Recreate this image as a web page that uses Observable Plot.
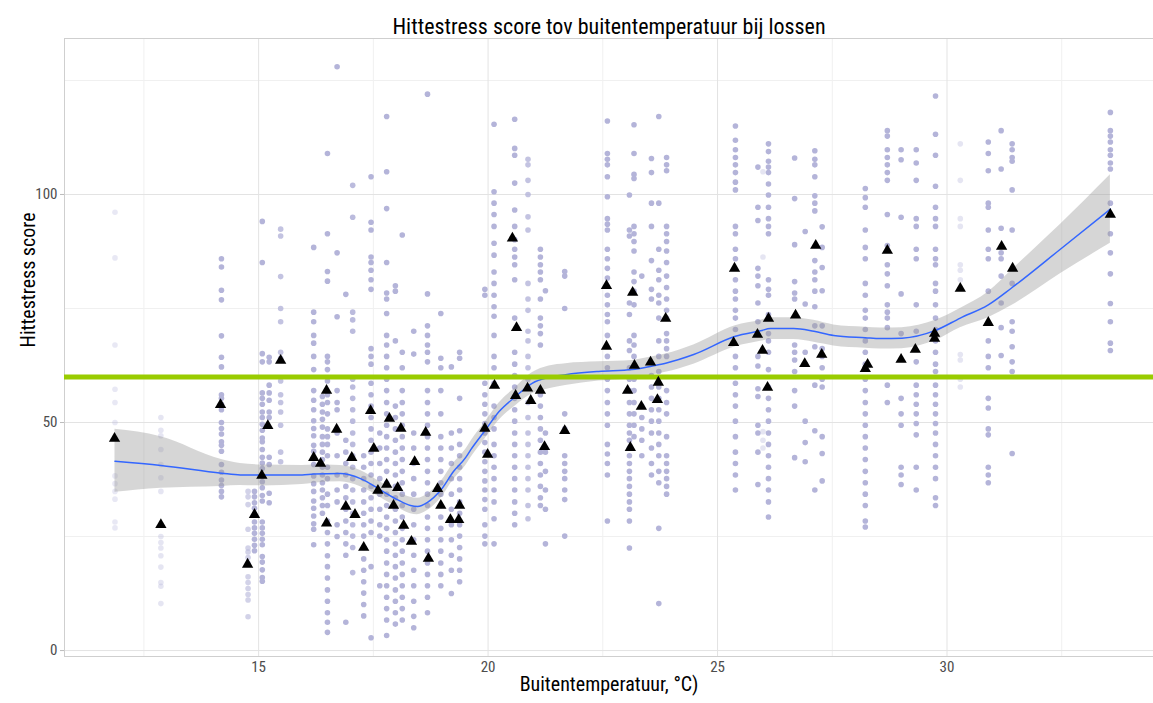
<!DOCTYPE html>
<html>
<head>
<meta charset="utf-8">
<script src="https://cdn.jsdelivr.net/npm/d3@7"></script>
<script src="https://cdn.jsdelivr.net/npm/@observablehq/plot@0.6"></script>
<style>
  html, body { margin: 0; padding: 0; background: #fff; }
  #chart svg { display: block; }
</style>
</head>
<body>
<div id="chart"></div>
<script>
// ---- data ----
const chartTitle = "Hittestress score tov buitentemperatuur bij lossen";
const xLabel = "Buitentemperatuur, °C)";
const yLabel = "Hittestress score";
const xTicks = [15, 20, 25, 30];
const xMinor = [12.5, 17.5, 22.5, 27.5, 32.5];
const yTicks = [0, 50, 100];
const yMinor = [25, 75, 125];
const threshold = [60];

// temperature of each day-column of individual scores
const dayTemp = [11.87, 12.87, 14.19, 14.77, 14.91, 15.08, 15.23, 15.48, 16.2, 16.39,
  16.5, 16.71, 16.9, 17.05, 17.29, 17.45, 17.64, 17.79, 17.98, 18.13,
  18.38, 18.68, 18.97, 19.2, 19.38, 19.93, 20.13, 20.58, 20.87, 21.14,
  21.25, 21.67, 22.6, 23.08, 23.18, 23.35, 23.56, 23.72, 23.89, 25.39,
  25.88, 25.99, 26.11, 26.68, 26.91, 27.12, 27.28, 28.22, 28.7, 29.0,
  29.33, 29.75, 30.29, 30.9, 31.18, 31.42, 33.56];
// visibility (alpha) of each column
const dayAlpha = [0.3, 0.35, 1, 0.6, 1, 1, 1, 0.8, 1, 1,
  1, 1, 1, 0.9, 1, 1, 1, 1, 1, 1,
  1, 1, 1, 1, 1, 1, 1, 1, 0.8, 1,
  1, 1, 1, 1, 1, 1, 1, 1, 1, 1,
  1, 0.35, 1, 1, 1, 1, 1, 1, 1, 1,
  1, 1, 0.35, 1, 1, 1, 1];
// individual hittestress scores per column
const dayScores = [
  [96.1, 86.1, 67.0, 57.3, 54.4, 50, 38.3, 36.6, 34.9, 33.2, 28.2, 26.9],
  [51.1, 48.3, 47.1, 44.1, 40.8, 37.9, 34.9, 25, 23.7, 22.5, 20.8, 18.3, 14.9, 14.1, 10.3],
  [85.9, 84.1, 79.0, 76.9, 69.0, 64.3, 62.2, 56.1, 55.3, 54.0, 52.8, 50, 48.7, 47.5, 45.8, 45.0, 43.7, 40.8, 39.1, 37.4, 36.2, 34.9, 33.7],
  [34.9, 33.7, 32.0, 26.6, 22.5, 21.6, 20.4, 19.1, 16.2, 14.9, 13.6, 12.3, 11.1, 7.4],
  [34.9, 33.7, 32.4, 31.2, 29.9, 28.2, 26.9, 25.7, 24.4, 23.1, 21.9],
  [94.1, 85.1, 65.1, 63.3, 56.5, 55.3, 54.0, 52.3, 51.1, 49.6, 48.3, 46.6, 45.8, 44.1, 42.4, 41.1, 39.9, 38.2, 37.0, 35.7, 34.0, 32.8, 28.2, 26.9, 25.7, 24.4, 23.2, 20.6, 19.4, 17.7, 16.0, 15.2],
  [64.3, 63.3, 58.2, 56.5, 54.9, 52.3, 51.1, 42.4, 40.8, 34.5, 32.4],
  [92.4, 90.9, 82.0, 75.0, 72.1, 65.4, 64.1, 59.1, 56.1, 54.4, 52.3, 49.4, 43.5, 41.4],
  [88.4, 74.2, 72.1, 69.1, 67.4, 64.5, 61.6, 57.0, 54.9, 52.8, 50.4, 48.7, 47.1, 45.0, 43.7, 42.1, 40.8, 38.3, 36.6, 34.9, 32.8, 31.2, 29.5, 27.8, 26.6, 23.2],
  [55.7, 54.0, 52.3, 50.7, 49.0, 46.9, 45.2, 43.5, 41.9, 40.2, 38.5, 36.8, 35.2, 33.5, 31.8, 30.1],
  [109.0, 91.4, 83.1, 81.0, 64.5, 63.3, 61.6, 59.1, 56.1, 54.4, 51.9, 48.6, 46.9, 45.2, 42.7, 40.2, 37.7, 34.3, 31.8, 28.4, 25.9, 23.4, 20.8, 18.4, 15.9, 13.3, 10.8, 8.3, 6.2, 4.0],
  [128.0, 87.2, 73.2, 57.0, 54.4, 52.8, 47.7, 42.7, 38.5, 35.2, 32.6, 27.6, 25.0],
  [78.1, 46.1, 43.5, 41.0, 38.5, 36.0, 33.5, 31.0, 28.4, 25.9, 23.4, 20.9, 6.2],
  [102.0, 95.0, 74.2, 72.5, 70.0, 59.5, 57.8, 55.3, 52.8, 50.3, 47.7, 45.2, 42.7, 40.2, 37.7, 35.2, 32.6, 30.1, 27.6, 25.1, 22.6, 17.1],
  [42.7, 40.2, 37.7, 35.2, 32.6, 30.1, 27.6, 25.1, 22.6, 20.1, 17.6, 15.1, 12.6, 10.1, 7.6],
  [103.9, 93.9, 92.2, 86.3, 85.1, 83.4, 81.3, 79.2, 66.2, 64.5, 62.8, 58.6, 56.1, 53.6, 51.1, 48.6, 46.1, 43.5, 41.0, 38.5, 36.0, 33.5, 31.0, 28.4, 25.9, 18.4, 2.8],
  [47.7, 44.4, 41.0, 37.7, 34.3, 31.0, 27.6, 25.1, 14.2],
  [117.1, 105.0, 96.9, 85.1, 78.4, 77.1, 73.9, 69.1, 67.0, 64.5, 62.0, 59.5, 57.0, 54.4, 51.9, 49.4, 46.9, 44.4, 41.9, 39.3, 36.8, 34.3, 31.8, 29.3, 26.8, 24.3, 21.8, 19.2, 16.7, 14.2, 11.7, 9.2, 6.7, 3.3],
  [80.0, 78.8, 67.9, 53.6, 51.1, 48.6, 46.1, 43.5, 41.0, 38.5, 36.0, 33.5, 31.0, 28.4, 25.9, 23.4, 20.9, 18.4, 15.9, 13.3, 10.8, 8.3, 5.8],
  [91.1, 65.4, 62.0, 57.0, 54.4, 51.9, 49.4, 46.9, 44.4, 41.9, 39.3, 36.8, 34.3, 31.8, 29.3, 26.8, 24.3, 21.8, 19.2, 16.7, 14.2, 11.7, 9.2, 6.7],
  [70.0, 65.0, 47.7, 44.4, 41.0, 37.7, 34.3, 31.0, 27.6, 24.3, 20.9, 17.6, 14.2, 10.8, 7.5, 5.0],
  [122.0, 78.2, 71.2, 69.1, 67.0, 65.4, 63.3, 57.0, 54.4, 51.9, 49.4, 46.9, 44.4, 41.9, 39.3, 36.8, 34.3, 31.8, 29.3, 26.8, 24.3, 21.8, 19.2, 16.7, 14.2, 11.7, 8.3],
  [73.9, 64.1, 62.0, 57.0, 51.9, 46.9, 44.4, 41.9, 39.3, 36.8, 34.3, 31.8, 29.3, 26.8, 24.3, 21.8, 19.2, 16.7, 14.2],
  [62.2, 47.7, 44.4, 41.0, 37.7, 34.3, 31.0, 27.6, 24.3, 20.9, 17.6, 12.5],
  [65.4, 64.1, 55.3, 48.2, 45.2, 42.7, 40.2, 37.7, 35.2, 32.6, 30.1, 27.6, 25.1, 22.6, 20.1, 17.6, 15.1],
  [79.2, 77.9, 58.6, 56.1, 54.0, 51.9, 49.8, 47.7, 45.6, 43.5, 41.4, 39.3, 37.2, 35.2, 33.1, 31.0, 27.6, 25.1, 23.4],
  [115.4, 100.6, 98.1, 95.6, 93.0, 89.3, 86.7, 83.0, 80.5, 77.9, 75.4, 73.3, 69.1, 64.5, 62.0, 58.6, 53.6, 51.1, 48.6, 45.2, 42.7, 40.2, 37.7, 35.2, 32.6, 28.9, 23.4],
  [116.5, 110.1, 108.6, 102.5, 96.6, 93.0, 90.1, 88.0, 86.3, 84.6, 81.3, 72.9, 65.4, 62.8, 60.3, 57.8, 55.3, 52.8, 50.3, 47.7, 45.2, 42.7, 40.2, 37.7, 35.2, 32.6, 30.1, 27.6],
  [107.7, 106.5, 103.1, 100.0, 95.1, 92.2, 80.5, 77.1, 74.6, 70.0, 67.9, 64.5, 62.0, 59.5, 54.4, 51.1, 47.7, 45.2, 42.7, 40.2, 37.7, 35.2, 31.8, 28.9],
  [88.0, 86.3, 84.6, 83.0, 81.3, 77.1, 72.9, 71.2, 69.5, 67.0, 56.1, 53.6, 51.1, 48.6, 46.1, 43.5, 41.0, 38.5, 36.0, 33.5, 31.8],
  [78.9, 47.7, 43.5, 39.3, 35.2, 31.0, 23.4],
  [83.1, 82.1, 75.0, 51.9, 48.6, 42.7, 41.0, 39.3, 37.7, 35.2, 33.1, 25.1],
  [116.1, 109.0, 107.7, 106.5, 103.9, 99.5, 94.7, 93.5, 92.2, 88.0, 85.9, 83.8, 81.7, 77.9, 75.8, 73.7, 72.1, 69.1, 64.5, 62.0, 59.5, 57.0, 54.4, 51.9, 49.4, 45.2, 43.1, 41.0, 38.5, 28.4],
  [99.9, 92.2, 90.9, 76.2, 73.7, 67.9, 65.8, 62.0, 59.5, 57.0, 54.4, 51.9, 49.4, 47.7, 46.1, 44.4, 42.7, 41.0, 39.3, 37.7, 36.0, 34.3, 32.6, 31.0, 28.4, 22.5],
  [115.3, 109.0, 104.4, 103.5, 93.0, 91.4, 89.7, 87.6, 83.0, 80.9, 78.8, 75.8, 69.1, 67.0, 64.5, 59.5, 57.0, 54.4, 51.9, 49.4, 46.9],
  [82.1, 53.6, 51.1, 48.6, 46.1, 42.7],
  [107.9, 104.8, 98.1, 93.0, 85.5, 79.2, 77.1, 60.3, 57.8, 55.3, 52.8, 50.3, 47.7, 44.4, 41.0, 38.5],
  [117.1, 98.1, 88.0, 83.4, 81.3, 77.9, 76.2, 72.9, 67.9, 64.5, 61.2, 57.8, 55.3, 52.8, 50.3, 47.7, 45.2, 42.7, 39.3, 36.8, 26.8, 10.3],
  [108.1, 106.5, 105.2, 93.0, 91.4, 89.7, 87.6, 85.1, 82.1, 79.6, 77.1, 74.6, 72.9, 69.5, 67.9, 66.2, 64.5, 57.0, 54.4, 51.9, 46.9, 42.7, 41.0, 39.3, 37.7, 36.0, 34.3],
  [115.0, 111.9, 109.8, 108.1, 106.5, 104.8, 102.7, 101.0, 93.0, 91.4, 88.0, 85.9, 81.3, 78.8, 77.1, 74.6, 72.9, 70.4, 64.5, 62.0, 58.6, 56.1, 53.6, 50.3, 46.9, 43.5, 41.0, 38.5, 35.2],
  [106.0, 97.2, 94.3, 83.8, 82.1, 80.0, 76.2, 72.1, 64.5, 62.4, 57.4, 55.7, 49.4, 47.7, 43.5, 36.4],
  [105.0, 86.3, 48.0, 46.1, 44.4],
  [111.1, 109.4, 107.3, 106.0, 104.8, 102.3, 99.9, 97.2, 94.7, 93.0, 91.4, 81.3, 79.2, 77.9, 73.7, 69.5, 67.9, 65.4, 61.6, 57.8, 55.3, 52.8, 50.3, 47.7, 45.2, 42.7, 40.2, 37.7, 35.2, 32.6, 29.3],
  [108.0, 99.1, 89.0, 80.9, 78.4, 77.1, 67.0, 65.4, 63.7, 61.2, 57.0, 53.6, 42.3],
  [91.9, 76.0, 65.4, 62.8, 50.3, 45.6, 41.4],
  [109.6, 107.7, 106.5, 103.9, 99.7, 98.1, 96.4, 85.5, 83.0, 81.3, 78.8, 75.4, 71.2, 66.6, 58.2, 48.2, 35.2],
  [92.9, 88.4, 84.0, 78.9, 71.2, 66.2, 64.5, 62.0, 59.5, 57.8, 46.9, 43.2, 37.2],
  [101.3, 99.3, 97.2, 92.2, 88.4, 85.9, 80.5, 77.9, 74.6, 72.9, 70.4, 67.9, 65.4, 62.8, 59.5, 57.0, 54.4, 51.9, 49.4, 46.9, 44.4, 41.9, 39.3, 36.8, 34.3, 31.8, 28.4, 27.1],
  [114.0, 112.8, 109.8, 108.1, 106.5, 104.8, 103.1, 95.6, 88.8, 84.6, 82.6, 80.0, 75.8, 74.2, 72.9, 70.8, 58.2, 54.4],
  [109.8, 107.6, 95.0, 78.2, 69.5, 55.3, 51.9, 49.4, 40.2, 38.5, 36.4],
  [109.8, 106.9, 103.1, 94.7, 93.0, 88.0, 85.9, 75.8, 70.0, 63.3, 58.2, 56.1, 54.0, 51.9, 49.8, 47.3, 40.2, 35.2],
  [121.6, 113.2, 108.6, 101.8, 97.2, 94.7, 93.0, 88.0, 85.9, 84.6, 80.5, 78.8, 75.8, 72.9, 70.4, 67.9, 65.4, 62.8, 61.2, 58.2, 56.1, 54.0, 51.9, 49.8, 47.7, 45.2, 42.7, 40.2, 37.7, 33.5, 31.8],
  [111.1, 103.1, 94.7, 93.0, 84.6, 83.4, 81.3, 64.9, 63.7, 59.5, 57.8],
  [111.5, 109.0, 105.2, 98.1, 97.2, 92.2, 88.0, 85.9, 78.8, 67.9, 64.5, 62.0, 55.3, 53.2, 48.6, 47.3, 40.2, 38.5, 36.8],
  [114.0, 105.6, 92.6, 87.2, 85.9, 82.1, 76.2, 70.8, 64.7],
  [111.1, 109.8, 108.1, 107.3, 101.0, 92.2, 80.5, 72.1, 70.0, 66.6, 63.3, 61.2, 43.2],
  [118.0, 114.0, 112.8, 111.5, 109.8, 108.6, 106.9, 105.6, 98.1, 91.4, 87.2, 82.6, 76.1, 72.1, 67.4, 65.8]
];

// mean score per day (black triangles)
const meanTemp = [11.86, 12.87, 14.17, 14.76, 14.91, 15.07, 15.2, 15.48, 16.2, 16.35,
  16.48, 16.48, 16.7, 16.9, 17.03, 17.1, 17.29, 17.44, 17.51, 17.6,
  17.79, 17.85, 17.94, 18.03, 18.1, 18.16, 18.33, 18.4, 18.64, 18.7,
  18.9, 18.97, 19.18, 19.36, 19.38, 19.93, 19.99, 20.14, 20.53, 20.62,
  20.6, 20.86, 20.93, 21.14, 21.23, 21.67, 22.58, 22.58, 23.04, 23.1,
  23.15, 23.19, 23.34, 23.54, 23.71, 23.69, 23.87, 25.37, 25.35, 25.87,
  25.98, 26.11, 26.09, 26.7, 26.9, 27.14, 27.27, 28.22, 28.27, 28.7,
  29.0, 29.31, 29.73, 29.73, 30.29, 30.9, 31.19, 31.43, 33.56];
const meanScore = [46.5, 27.6, 53.9, 18.9, 29.8, 38.4, 49.3, 63.6, 42.3, 41,
  57, 27.9, 48.5, 31.6, 42.3, 29.8, 22.6, 52.6, 44.3, 35.1,
  36.4, 50.9, 31.8, 35.7, 48.7, 27.4, 23.9, 41.4, 47.8, 20.2,
  35.5, 31.8, 28.7, 28.7, 31.8, 48.7, 43, 58.1, 90.4, 70.8,
  55.9, 57.5, 54.8, 57, 44.7, 48.2, 80, 66.7, 57, 44.5,
  78.5, 62.5, 53.5, 63.2, 58.8, 55, 72.8, 83.8, 67.5, 69.3,
  65.8, 72.8, 57.7, 73.5, 62.9, 88.8, 64.9, 61.8, 62.7, 87.7,
  63.8, 66, 68.4, 69.5, 79.4, 71.9, 88.6, 83.8, 95.6];

// loess smooth with confidence band
const fitTemp = [11.87, 12.87, 14.19, 14.6, 15.08, 15.95, 16.2, 16.78, 17.22, 17.66,
  18.02, 18.31, 18.46, 18.68, 18.97, 19.25, 19.51, 19.62, 19.93, 20.24,
  20.6, 20.96, 21.33, 21.69, 22.41, 23.14, 23.58, 23.87, 24.48, 25.39,
  25.94, 26.15, 26.66, 27.1, 27.53, 28.22, 28.55, 29.02, 29.75, 30.29,
  30.9, 31.42, 32.47, 33.56];
const fitScore = [41.5, 40.6, 38.9, 38.5, 38.5, 38.5, 38.7, 38.8, 37.7, 35.2,
  33.1, 31.8, 31.6, 32.5, 35.2, 39.3, 42.3, 44.0, 48.2, 52.4,
  55.7, 58.6, 59.9, 60.5, 61.2, 61.6, 62.4, 63.0, 64.9, 68.9,
  70.1, 70.6, 70.6, 70.0, 69.1, 68.6, 68.4, 68.5, 70.2, 72.9,
  75.8, 79.6, 88.0, 96.8];
const fitLow = [34.7, 35.6, 36.0, 36.2, 36.1, 36.4, 36.7, 37.0, 35.9, 33.5,
  31.4, 30.0, 29.8, 30.7, 33.4, 37.5, 40.5, 42.2, 46.4, 50.5,
  53.7, 56.3, 57.4, 58.1, 59.1, 59.6, 60.4, 61.0, 62.8, 66.6,
  67.8, 68.2, 68.2, 67.6, 66.8, 66.3, 66.1, 66.2, 68.0, 70.8,
  73.0, 75.7, 82.6, 89.3];
const fitHigh = [48.5, 46.9, 41.9, 41.0, 40.7, 40.6, 40.7, 40.6, 39.5, 36.9,
  34.8, 33.6, 33.4, 34.3, 37.0, 41.1, 44.1, 45.8, 50.0, 54.3,
  57.7, 60.9, 62.4, 62.9, 63.3, 63.6, 64.4, 65.0, 67.0, 71.2,
  72.4, 73.0, 73.0, 72.4, 71.4, 70.9, 70.7, 70.8, 72.4, 75.0,
  78.6, 83.5, 93.4, 104.3];

// ---- build tables ----
const scorePoints = dayTemp.flatMap((t, i) =>
  dayScores[i].map(s => ({temp: t, score: s, alpha: dayAlpha[i]})));
const means = meanTemp.map((t, i) => ({temp: t, score: meanScore[i]}));
const fit = fitTemp.map((t, i) => ({temp: t, score: fitScore[i], lo: fitLow[i], hi: fitHigh[i]}));

const narrow = "'Liberation Sans Narrow', 'Arial Narrow', 'Roboto Condensed', sans-serif";

const chart = Plot.plot({
  width: 1153,
  height: 703,
  marginTop: 38,
  marginBottom: 47,
  marginLeft: 64,
  marginRight: 0,
  style: {fontFamily: narrow, background: "#fff", overflow: "visible"},
  x: {domain: [10.77, 34.5]},
  y: {domain: [-1.3, 134.2]},
  marks: [
    Plot.ruleY(yMinor, {stroke: "#f0f0f0", strokeWidth: 1}),
    Plot.ruleX(xMinor, {stroke: "#f0f0f0", strokeWidth: 1}),
    Plot.ruleY(yTicks, {stroke: "#e3e3e3", strokeWidth: 1}),
    Plot.ruleX(xTicks, {stroke: "#e3e3e3", strokeWidth: 1}),
    Plot.frame({stroke: "#cfcfcf", strokeWidth: 1}),
    Plot.axisY(yTicks, {tickSize: 4, tickPadding: 3, fontSize: 15, color: "#4d4d4d", stroke: "#bbbbbb", label: null}),
    Plot.axisX(xTicks, {tickSize: 0, tickPadding: 5, fontSize: 15, color: "#4d4d4d", label: null}),
    Plot.dot(scorePoints, {x: "temp", y: "score", r: 2.8, fill: "#b4b4d9", fillOpacity: "alpha", stroke: "none"}),
    Plot.areaY(fit, {x: "temp", y1: "lo", y2: "hi", fill: "#999999", fillOpacity: 0.4, curve: "monotone-x"}),
    Plot.line(fit, {x: "temp", y: "score", stroke: "#3366ff", strokeWidth: 1.5, curve: "monotone-x"}),
    Plot.ruleY(threshold, {stroke: "#99cc00", strokeWidth: 5}),
    Plot.dot(means, {x: "temp", y: "score", symbol: "triangle", r: 4.2, fill: "black", stroke: "none"}),
    Plot.text([chartTitle], {frameAnchor: "top", dy: -20, fontSize: 22, fill: "#000"}),
    Plot.text([xLabel], {frameAnchor: "bottom", dy: 34, fontSize: 20, fill: "#000"}),
    Plot.text([yLabel], {frameAnchor: "left", dx: -36, rotate: -90, fontSize: 20, fill: "#000"})
  ]
});
document.getElementById("chart").append(chart);
</script>
</body>
</html>
